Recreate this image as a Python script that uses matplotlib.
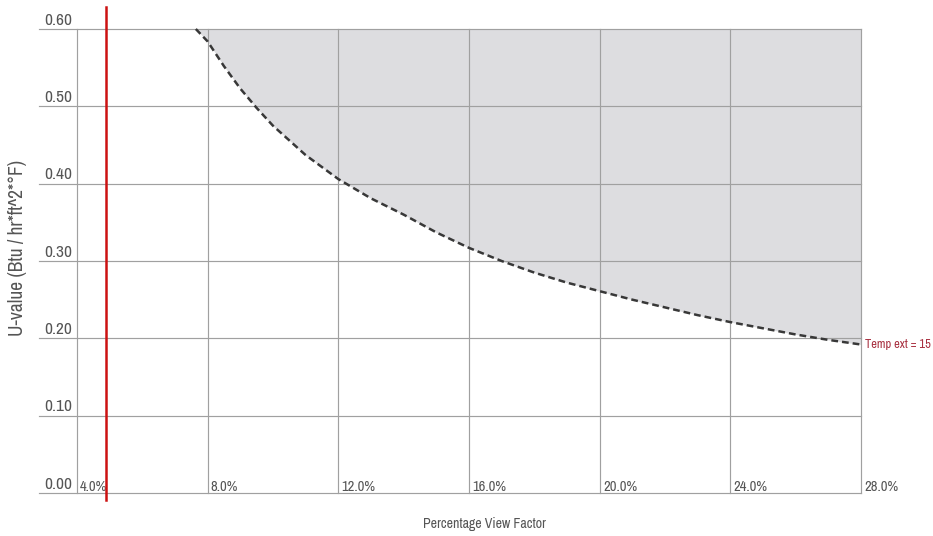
import matplotlib
matplotlib.use("Agg")
import matplotlib.pyplot as plt
from matplotlib import transforms, font_manager


def _narrow_face():
    """Return the file of the narrowest regular sans face that is installed."""
    ranked = []
    for f in font_manager.fontManager.ttflist:
        if f.style != "normal" or f.weight not in (400, "normal", "regular"):
            continue
        if "Narrow" in f.name:
            ranked.append((0, f.fname))
        elif f.stretch in ("extra-condensed", "ultra-condensed"):
            ranked.append((1, f.fname))
        elif f.stretch == "condensed" or "Condensed" in f.fname:
            ranked.append((2, f.fname))
        elif f.stretch == "semi-condensed":
            ranked.append((3, f.fname))
    ranked.sort()
    return ranked[0][1] if ranked else None


_face = _narrow_face()
FP = (font_manager.FontProperties(fname=_face) if _face
      else font_manager.FontProperties(family="DejaVu Sans"))

# View factor (%) and U-value threshold curve
view_factor = [7.64, 8.0, 8.5, 9.0, 9.5, 10.0, 11.0, 12.0, 13.0, 14.0, 15.0, 16.0,
               17.0, 18.0, 19.0, 20.0, 21.0, 22.0, 23.0, 24.0, 25.0, 26.0, 27.0, 28.0]
u_value = [0.600, 0.584, 0.552, 0.523, 0.498, 0.475, 0.437, 0.406, 0.381, 0.360,
           0.337, 0.317, 0.300, 0.285, 0.272, 0.261, 0.250, 0.240, 0.230, 0.221,
           0.213, 0.205, 0.198, 0.192]

x_ticks = [4.0, 8.0, 12.0, 16.0, 20.0, 24.0, 28.0]
x_tick_labels = ["4.0%", "8.0%", "12.0%", "16.0%", "20.0%", "24.0%", "28.0%"]
y_ticks = [0.0, 0.1, 0.2, 0.3, 0.4, 0.5, 0.6]
y_tick_labels = ["0.00", "0.10", "0.20", "0.30", "0.40", "0.50", "0.60"]

limit_view_factor = 4.9
curve_label = "Temp ext = 15"

x_min, x_max = 2.84, 28.0
y_min, y_max = 0.0, 0.6

fig = plt.figure(figsize=(9.33, 5.36), dpi=100)
ax = fig.add_axes([39 / 933, 43 / 536, 822 / 933, 464 / 536])
ax.set_xlim(x_min, x_max)
ax.set_ylim(y_min, y_max)
for s in ax.spines.values():
    s.set_visible(False)
ax.set_xticks([])
ax.set_yticks([])

grid_color = "#a0a0a0"
text_color = "#555555"

# shaded region above the curve
ax.fill_between(view_factor, u_value, y_max, color="#dddde0", lw=0, zorder=1)

# grid
for y in y_ticks:
    ax.axhline(y, color=grid_color, lw=0.85, zorder=2, clip_on=False)
for x in x_ticks:
    ax.axvline(x, color=grid_color, lw=0.85, zorder=2, clip_on=False)

# threshold curve
ax.plot(view_factor, u_value, color="#383838", lw=1.8, dashes=(2.7, 1.6),
        zorder=4, clip_on=False)

# vertical limit line
ax.plot([limit_view_factor, limit_view_factor], [-0.015, 1.047],
        transform=transforms.blended_transform_factory(ax.transData, ax.transAxes),
        color="#cc1111", lw=1.8, zorder=5, clip_on=False)

# tick labels drawn inside the grid
ytrans = transforms.blended_transform_factory(ax.transAxes, ax.transData)
for y, lab in zip(y_ticks, y_tick_labels):
    ax.text(0.006, y + 0.0055, lab, transform=ytrans, ha="left", va="baseline",
            fontproperties=FP, fontsize=12.5, color=text_color)
for x, lab in zip(x_ticks, x_tick_labels):
    ax.text(x + 0.1, 0.003, lab, ha="left", va="baseline",
            fontproperties=FP, fontsize=10.5, color=text_color)

ax.text(28.12, u_value[-1], curve_label, ha="left", va="center",
        fontproperties=FP, fontsize=9, color="#a83040", clip_on=False)

fig.text(484 / 933, 1 - 524 / 536, "Percentage View Factor", ha="center",
         va="center", fontproperties=FP, fontsize=10, color=text_color)
fig.text(18 / 933, 1 - 248 / 536, "U-value (Btu / hr*ft^2*°F)", ha="center",
         va="center", rotation=90, fontproperties=FP, fontsize=14, color=text_color)

fig.savefig("out.png", dpi=100)
